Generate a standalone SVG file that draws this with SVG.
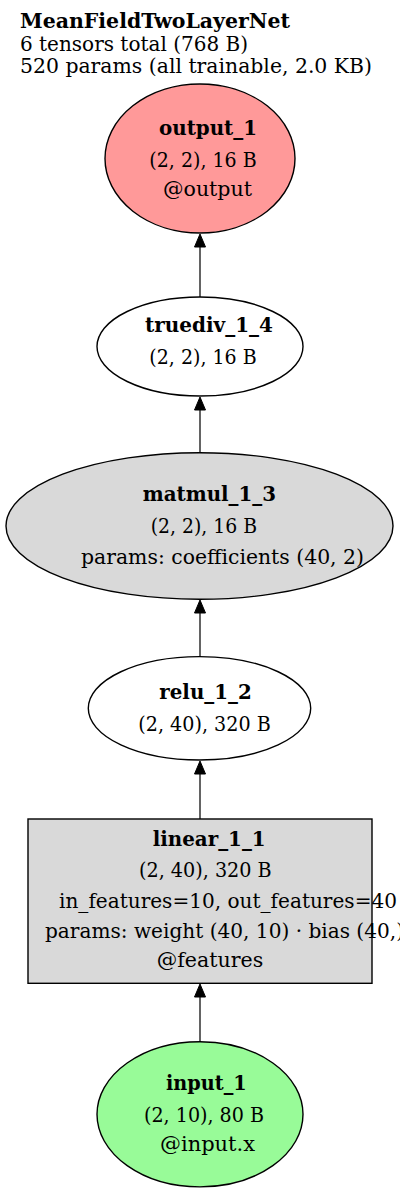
<svg xmlns="http://www.w3.org/2000/svg" width="400" height="1196" viewBox="0 0 400 1196">
<style>
text{font-family:"DejaVu Serif","Liberation Serif",serif;font-size:20.5px;fill:#000}
.b{font-weight:bold}
.node ellipse,.node rect{stroke:#000;stroke-width:1.4}
.edge line{stroke:#222;stroke-width:1.4}
.edge path{fill:#000;stroke:#000;stroke-width:1}
</style>
<rect x="0" y="0" width="400" height="1196" fill="#fff"/>
<g id="title">
<text class="b" x="20" y="28" textLength="270" lengthAdjust="spacingAndGlyphs">MeanFieldTwoLayerNet</text>
<text x="20" y="51" textLength="228" lengthAdjust="spacingAndGlyphs">6 tensors total (768 B)</text>
<text x="20" y="73" textLength="352" lengthAdjust="spacingAndGlyphs">520 params (all trainable, 2.0 KB)</text>
</g>
<g id="edges" class="edge">
<line x1="200" y1="297" x2="200" y2="246"/>
<path d="M200,234 L205.5,247 L194.5,247 Z"/>
<line x1="200" y1="453" x2="200" y2="409"/>
<path d="M200,397 L205.5,410 L194.5,410 Z"/>
<line x1="200" y1="657" x2="200" y2="612"/>
<path d="M200,600 L205.5,613 L194.5,613 Z"/>
<line x1="200" y1="819" x2="200" y2="773"/>
<path d="M200,761 L205.5,774 L194.5,774 Z"/>
<line x1="200" y1="1042" x2="200" y2="996"/>
<path d="M200,984 L205.5,997 L194.5,997 Z"/>
</g>
<g id="output_1" class="node">
<ellipse cx="200" cy="158.5" rx="95" ry="74.5" fill="#ff9999"/>
<text class="b" x="159" y="135" textLength="98" lengthAdjust="spacingAndGlyphs">output_1</text>
<text x="149.3" y="166.7" textLength="107.4" lengthAdjust="spacingAndGlyphs">(2, 2), 16 B</text>
<text x="163" y="196" textLength="89" lengthAdjust="spacingAndGlyphs">@output</text>
</g>
<g id="truediv_1_4" class="node">
<ellipse cx="200" cy="346.5" rx="103" ry="49.5" fill="#fff"/>
<text class="b" x="145" y="331.7" textLength="128" lengthAdjust="spacingAndGlyphs">truediv_1_4</text>
<text x="149.3" y="364" textLength="107.4" lengthAdjust="spacingAndGlyphs">(2, 2), 16 B</text>
</g>
<g id="matmul_1_3" class="node">
<ellipse cx="199.5" cy="526" rx="193.5" ry="73.3" fill="#d9d9d9"/>
<text class="b" x="142.7" y="500.7" textLength="133.3" lengthAdjust="spacingAndGlyphs">matmul_1_3</text>
<text x="150.7" y="532.7" textLength="106.3" lengthAdjust="spacingAndGlyphs">(2, 2), 16 B</text>
<text x="81" y="564" textLength="283" lengthAdjust="spacingAndGlyphs">params: coefficients (40, 2)</text>
</g>
<g id="relu_1_2" class="node">
<ellipse cx="199.5" cy="708.3" rx="111.2" ry="51.7" fill="#fff"/>
<text class="b" x="159.3" y="699.3" textLength="92.4" lengthAdjust="spacingAndGlyphs">relu_1_2</text>
<text x="138.3" y="730.7" textLength="132.4" lengthAdjust="spacingAndGlyphs">(2, 40), 320 B</text>
</g>
<g id="linear_1_1" class="node">
<rect x="28" y="819" width="344" height="164.3" fill="#d9d9d9"/>
<text class="b" x="152.7" y="845.7" textLength="113" lengthAdjust="spacingAndGlyphs">linear_1_1</text>
<text x="139" y="877.3" textLength="132.7" lengthAdjust="spacingAndGlyphs">(2, 40), 320 B</text>
<text x="59" y="908.3" textLength="338" lengthAdjust="spacingAndGlyphs">in_features=10, out_features=40</text>
<text x="45" y="938.3" textLength="359" lengthAdjust="spacingAndGlyphs">params: weight (40, 10) · bias (40,)</text>
<text x="156.7" y="967" textLength="106.6" lengthAdjust="spacingAndGlyphs">@features</text>
</g>
<g id="input_1" class="node">
<ellipse cx="200" cy="1114.3" rx="103" ry="72.6" fill="#98fb98"/>
<text class="b" x="166" y="1090" textLength="80.7" lengthAdjust="spacingAndGlyphs">input_1</text>
<text x="144" y="1121.7" textLength="120" lengthAdjust="spacingAndGlyphs">(2, 10), 80 B</text>
<text x="160" y="1151" textLength="95" lengthAdjust="spacingAndGlyphs">@input.x</text>
</g>
</svg>
